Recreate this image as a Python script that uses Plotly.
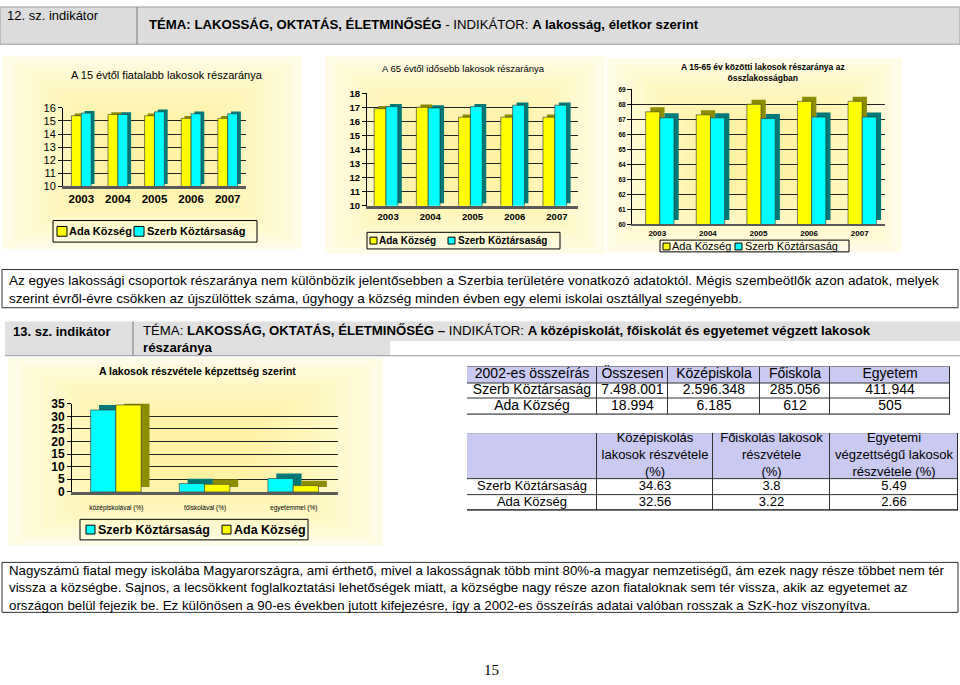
import plotly.graph_objects as go

W, H = 960, 685

# ---------------- data ----------------
years = ['2003', '2004', '2005', '2006', '2007']
young_ada = [15.4, 15.5, 15.4, 15.2, 15.2]
young_szerb = [15.6, 15.5, 15.7, 15.55, 15.55]
old_ada = [16.9, 17.0, 16.3, 16.3, 16.3]
old_szerb = [17.05, 16.95, 17.05, 17.15, 17.15]
mid_ada = [67.5, 67.3, 68.0, 68.2, 68.2]
mid_szerb = [67.1, 67.1, 67.05, 67.15, 67.15]
edu_cats = ['középiskolával (%)', 'főiskolával (%)', 'egyetemmel (%)']
edu_szerb = [32.5, 3.3, 5.3]
edu_ada = [34.5, 3.0, 2.5]
name_ada = 'Ada Község'
name_szerb = 'Szerb Köztársaság'

t1_header = ['2002-es összeírás', 'Összesen', 'Középiskola', 'Főiskola', 'Egyetem']
t1_rows = ['Szerb Köztársaság', 'Ada Község']
t1_total = ['7.498.001', '18.994']
t1_kozep = ['2.596.348', '6.185']
t1_foisk = ['285.056', '612']
t1_egyet = ['411.944', '505']

t2_header = ['', 'Középiskolás<br>lakosok részvétele<br>(%)',
             'Főiskolás lakosok<br>részvétele<br>(%)',
             'Egyetemi<br>végzettségű lakosok<br>részvétele (%)']
t2_rows = ['Szerb Köztársaság', 'Ada Község']
t2_kozep = ['34.63', '32.56']
t2_foisk = ['3.8', '3.22']
t2_egyet = ['5.49', '2.66']

# ---------------- style ----------------
ARIAL = 'Liberation Sans, Arial, sans-serif'
NARROW = 'Liberation Sans Narrow, Arial Narrow, Liberation Sans, sans-serif'
TIMES = 'Liberation Serif, Times New Roman, serif'
YEL, YEL_D = '#ffff00', '#8c8c00'
CYN, CYN_D = '#00ffff', '#007878'
PANEL_EDGE = '#fefce6'
PANEL_TINT = 'rgba(250, 238, 120, 0.075)'
HEAD_FILL = '#c9c9f2'


def px(x):
    return x / W


def py(y):
    return 1 - y / H


fig = go.Figure()
shapes = []
annotations = []
layout = {}


def ax_names(idx):
    xa = 'x' if idx == 1 else f'x{idx}'
    ya = 'y' if idx == 1 else f'y{idx}'
    xk = 'xaxis' if idx == 1 else f'xaxis{idx}'
    yk = 'yaxis' if idx == 1 else f'yaxis{idx}'
    return xa, ya, xk, yk


def add_chart(idx, cats, s1, s2, col1, col2, ymin, off, width, dx, dy):
    xa, ya, _, _ = ax_names(idx)
    for vals, col, o in ((s1, col1[1], off), (s2, col2[1], off + width)):
        fig.add_trace(go.Bar(x=cats, y=[v - ymin for v in vals], base=ymin + dy,
                             offset=o + dx, width=width,
                             marker=dict(color=col, line=dict(width=0)),
                             xaxis=xa, yaxis=ya, showlegend=False, hoverinfo='skip'))
    for vals, col, o in ((s1, col1[0], off), (s2, col2[0], off + width)):
        fig.add_trace(go.Bar(x=cats, y=vals, offset=o, width=width,
                             marker=dict(color=col, line=dict(color='#303030', width=0.6)),
                             xaxis=xa, yaxis=ya, showlegend=False))


def add_axes(idx, ncat, xdom, ydom, yrange, dtick, yfont, xfont, standoff=0, floor_w=3):
    xa, ya, xk, yk = ax_names(idx)
    layout[xk] = dict(domain=[px(xdom[0]), px(xdom[1])], anchor=ya, type='category',
                      range=[-0.5, ncat - 0.5], showline=True, linecolor='#5a5a5a',
                      linewidth=floor_w, ticks='', showgrid=False, tickfont=xfont,
                      ticklabelstandoff=standoff, fixedrange=True)
    layout[yk] = dict(domain=[py(ydom[1]), py(ydom[0])], anchor=xa, range=yrange,
                      dtick=dtick, showline=True, linecolor='#000000', linewidth=1,
                      ticks='outside', ticklen=4, tickcolor='#000000', showgrid=True,
                      gridcolor='#222222', gridwidth=1, tickfont=yfont, zeroline=False,
                      fixedrange=True)


def add_table(idx, xdom, ydom, col_w, row_h, header, columns, size=13):
    xa, ya, xk, yk = ax_names(idx)
    xe = [0]
    for w in col_w:
        xe.append(xe[-1] + w)
    ye = [0]
    for h in row_h:
        ye.append(ye[-1] + h)
    nrows = len(row_h)
    z = [[1] * len(col_w)] + [[0] * len(col_w) for _ in range(nrows - 1)]
    shapes.append(dict(type='rect', xref=xa, yref=ya, x0=0, x1=xe[-1], y0=0, y1=ye[-1],
                       fillcolor='#333333', line=dict(color='#222222', width=1), layer='below'))
    fig.add_trace(go.Heatmap(x=xe, y=ye, z=z, colorscale=[[0, '#ffffff'], [1, HEAD_FILL]],
                             zmin=0, zmax=1, showscale=False, xgap=1, ygap=1,
                             hoverinfo='skip', xaxis=xa, yaxis=ya))
    xs, ys, ts = [], [], []
    for ci in range(len(col_w)):
        cx = (xe[ci] + xe[ci + 1]) / 2
        for ri in range(nrows):
            cy = (ye[ri] + ye[ri + 1]) / 2
            xs.append(cx)
            ys.append(cy)
            ts.append(header[ci] if ri == 0 else columns[ci][ri - 1])
    fig.add_trace(go.Scatter(x=xs, y=ys, text=ts, mode='text', textposition='middle center',
                             textfont=dict(size=size, family=ARIAL, color='#000000'),
                             cliponaxis=False, hoverinfo='skip', showlegend=False,
                             xaxis=xa, yaxis=ya))
    layout[xk] = dict(domain=[px(xdom[0]), px(xdom[1])], anchor=ya, range=[0, xe[-1]],
                      visible=False, fixedrange=True)
    layout[yk] = dict(domain=[py(ydom[1]), py(ydom[0])], anchor=xa, range=[ye[-1], 0],
                      visible=False, fixedrange=True)


def rect(x0, y0, x1, y1, fill=None, line='#000000', lw=1, layer='below'):
    shapes.append(dict(type='rect', xref='paper', yref='paper', x0=px(x0), x1=px(x1),
                       y0=py(y1), y1=py(y0), fillcolor=fill if fill else 'rgba(0,0,0,0)',
                       line=dict(color=line if line else 'rgba(0,0,0,0)', width=lw if line else 0),
                       layer=layer))


def panel(x0, y0, x1, y1):
    rect(x0, y0, x1, y1, PANEL_EDGE, None)
    w, h = x1 - x0, y1 - y0
    for k in range(1, 12):
        f = 0.032 * k
        rect(x0 + w * f, y0 + h * f, x1 - w * f, y1 - h * f, PANEL_TINT, None)


def hline(x0, x1, y, color='#000000', lw=1):
    shapes.append(dict(type='line', xref='paper', yref='paper', x0=px(x0), x1=px(x1),
                       y0=py(y), y1=py(y), line=dict(color=color, width=lw)))


def vline(x, y0, y1, color='#000000', lw=1):
    shapes.append(dict(type='line', xref='paper', yref='paper', x0=px(x), x1=px(x),
                       y0=py(y0), y1=py(y1), line=dict(color=color, width=lw)))


def text(x, y, s, size, bold=False, family=ARIAL, xanchor='left', color='#000000'):
    if bold:
        s = f'<b>{s}</b>'
    annotations.append(dict(x=px(x), y=py(y), xref='paper', yref='paper', text=s,
                            showarrow=False, xanchor=xanchor, yanchor='middle',
                            font=dict(size=size, family=family, color=color),
                            align='left' if xanchor == 'left' else 'center', borderpad=0))


def legend(box, items, size, bold):
    x0, y0, x1, y1 = box
    rect(x0, y0, x1, y1, None, '#000000', 1, 'above')
    for (sx0, sy0, sx1, sy1, col, tx, label) in items:
        rect(sx0, sy0, sx1, sy1, col, '#000000', 1, 'above')
        text(tx, (y0 + y1) / 2, label, size, bold)


# ---------------- panels ----------------
panel(3, 50, 302, 247)
panel(325, 50, 605, 252)
panel(607, 52, 902, 250)
panel(8, 358, 383, 550)

# ---------------- charts ----------------
add_chart(1, years, young_ada, young_szerb, (YEL, YEL_D), (CYN, CYN_D), 10, -0.27, 0.27, 0.09, 0.17)
add_axes(1, len(years), (63, 246), (103, 183), [10, 16], 1,
         dict(size=11, family=ARIAL, color='#000'), dict(size=11.5, family=ARIAL, color='#000', weight='bold'))

add_chart(2, years, old_ada, old_szerb, (YEL, YEL_D), (CYN, CYN_D), 10, -0.33, 0.28, 0.095, 0.19)
add_axes(2, len(years), (367, 578), (88, 203), [10, 18], 1,
         dict(size=9.5, family=ARIAL, color='#000', weight='bold'), dict(size=9.5, family=ARIAL, color='#000', weight='bold'))

add_chart(3, years, mid_ada, mid_szerb, (YEL, YEL_D), (CYN, CYN_D), 60, -0.23, 0.28, 0.093, 0.3)
add_axes(3, len(years), (632, 885), (84, 222), [60, 69], 1,
         dict(size=6.5, family=ARIAL, color='#000', weight='bold'), dict(size=8, family=ARIAL, color='#000', weight='bold'),
         floor_w=2)

add_chart(4, edu_cats, edu_szerb, edu_ada, (CYN, CYN_D), (YEL, YEL_D), 0, -0.29, 0.285, 0.094, 1.95)
add_axes(4, len(edu_cats), (72, 338), (405, 495), [0, 35], 5,
         dict(size=12, family=ARIAL, color='#000', weight='bold'), dict(size=6.5, family=ARIAL, color='#000'),
         standoff=7)

# titles
text(167, 69, 'A 15 évtől fiatalabb lakosok részaránya', 11, xanchor='center')
text(463, 63, 'A 65 évtől idősebb lakosok részaránya', 9.5, xanchor='center')
text(763, 67, '<b>A 15-65 év közötti lakosok részaránya az<br>összlakosságban</b>', 8.5, xanchor='center')
text(197, 372, 'A lakosok részvétele képzettség szerint', 10.5, bold=True, xanchor='center')

# legends
legend((53, 218, 257, 240), [(57, 224, 67, 234, YEL, 68, name_ada),
                             (134, 224, 144, 234, CYN, 146, name_szerb)], 11, True)
legend((367, 230, 560, 247), [(370, 235, 377, 242, YEL, 378, name_ada),
                              (448, 235, 455, 242, CYN, 457, name_szerb)], 10, True)
legend((660, 238, 849, 250), [(663, 241, 670, 248, YEL, 671, name_ada),
                              (735, 241, 742, 248, CYN, 744, name_szerb)], 11, False)
legend((80, 523, 308, 544), [(86, 529, 95, 538, CYN, 97, name_szerb),
                             (222, 529, 231, 538, YEL, 233, name_ada)], 12.5, True)

# ---------------- tables ----------------
add_table(5, (467, 950), (367, 416), [130, 71, 92, 70, 120], [17, 16, 16], t1_header,
          [t1_rows, t1_total, t1_kozep, t1_foisk, t1_egyet], size=14)
add_table(6, (467, 958), (435, 514), [130, 116, 117, 128], [47, 16, 16], t2_header,
          [t2_rows, t2_kozep, t2_foisk, t2_egyet], size=13)

# ---------------- headers and paragraphs ----------------
rect(0, 0, 960, 38, '#dcdcdc', '#9a9a9a')
vline(137, 0, 38, '#777777')
text(6, 9, '12. sz. indikátor', 13, family=NARROW)
text(148, 18, '<b>TÉMA: LAKOSSÁG, OKTATÁS, ÉLETMINŐSÉG</b> - INDIKÁTOR: <b>A lakosság, életkor szerint</b>',
     13.2, family=NARROW)

rect(2, 268, 958, 307, None, '#333333')
text(8, 288.5, 'Az egyes lakossági csoportok részaránya nem különbözik jelentősebben a Szerbia területére vonatkozó adatoktól. '
     'Mégis szembeötlők azon adatok, melyek<br>szerint évről-évre csökken az újszülöttek száma, úgyhogy a község '
     'minden évben egy elemi iskolai osztállyal szegényebb.', 13.5, family=NARROW)

rect(5, 321, 960, 341, '#e0e0e0', None)
rect(5, 341, 390, 356, '#e0e0e0', None)
hline(5, 960, 356, '#999999')
vline(133, 321, 356, '#777777')
text(12, 331, '13. sz. indikátor', 13, bold=True)
text(142, 339, 'TÉMA: <b>LAKOSSÁG, OKTATÁS, ÉLETMINŐSÉG – </b>INDIKÁTOR: '
     '<b>A középiskolát, főiskolát és egyetemet végzett lakosok</b><br><b>részaránya</b>', 13.2)

rect(2, 567, 958, 618, None, '#333333')
text(8, 593, 'Nagyszámú fiatal megy iskolába Magyarországra, ami érthető, mivel a lakosságnak több mint 80%-a magyar '
     'nemzetiségű, ám ezek nagy része többet nem tér<br>vissza a községbe. Sajnos, a lecsökkent foglalkoztatási '
     'lehetőségek miatt, a községbe nagy része azon fiataloknak sem tér vissza, akik az egyetemet az<br>országon '
     'belül fejezik be. Ez különösen a 90-es években jutott kifejezésre, így a 2002-es összeírás adatai valóban '
     'rosszak a SzK-hoz viszonyítva.', 13.3, family=NARROW)

text(492, 677, '15', 15, family=TIMES, xanchor='center')

fig.update_layout(width=W, height=H, margin=dict(l=0, r=0, t=0, b=0),
                  paper_bgcolor='#ffffff', plot_bgcolor='rgba(0,0,0,0)',
                  barmode='overlay', showlegend=False, shapes=shapes, annotations=annotations,
                  **layout)

fig.write_html('out.html')
